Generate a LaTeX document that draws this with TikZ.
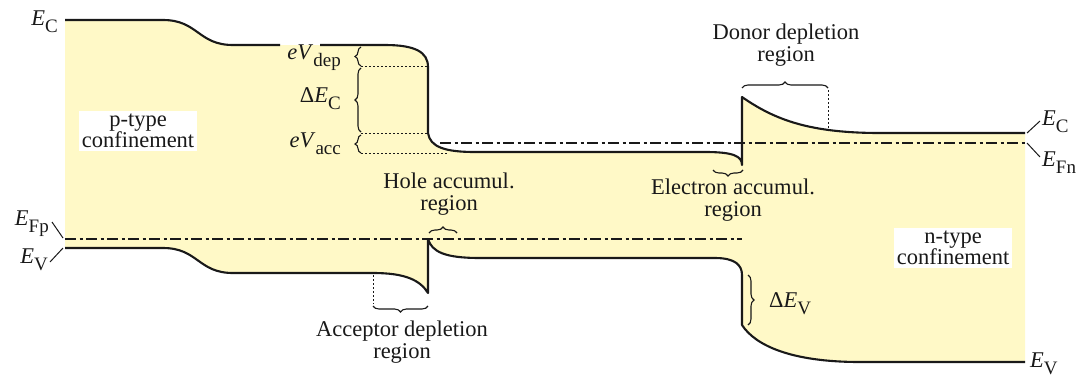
\documentclass[tikz,border=0pt]{standalone}
\usepackage{fontspec}
\setmainfont{Liberation Serif}
\usetikzlibrary{decorations.pathreplacing}
\definecolor{bandfill}{RGB}{255,249,199}
\definecolor{ink}{RGB}{25,25,25}
\newcommand\sbx[1]{\raisebox{-0.35em}{\fontsize{19}{19}\selectfont #1}}
\newcommand\En[1]{\textit{E}\sbx{#1}}
\begin{document}
\begin{tikzpicture}[x=1pt,y=-1pt,font=\fontsize{22.5}{21.5}\selectfont,
  band/.style={line width=2.1pt, draw=ink, line join=round},
  fermi/.style={line width=2pt, draw=ink, dash pattern=on 11pt off 3.5pt on 3pt off 3.5pt},
  dots/.style={line width=0.9pt, draw=ink, dash pattern=on 2pt off 2pt},
  brc/.style={decorate, decoration={brace, amplitude=6pt}, line width=1.1pt, draw=ink},
  lbl/.style={inner sep=0pt, text=ink},
  tick/.style={line width=1pt, draw=ink},
  boxlbl/.style={fill=white, align=center, inner sep=3pt, text=ink},
  txt/.style={align=center, inner sep=0pt, text=ink}]
\useasboundingbox (0,0) rectangle (1084,381);
% band fill
\fill[bandfill] (65,20) -- (163,20) .. controls (198,20) and (198,45) .. (233,45)
  -- (385,45) .. controls (415,45) and (428,52) .. (428,67) -- (428,133)
  .. controls (430,147) and (445,152) .. (475,152) -- (705,152)
  .. controls (733,152) and (742,156) .. (742,165) -- (742,97)
  .. controls (775,120) and (810,133) .. (880,133) -- (1025,133)
  -- (1025,362) -- (860,362) .. controls (790,362) and (755,345) .. (742,325)
  -- (742,275) .. controls (742,265) and (735,258) .. (715,258) -- (480,258)
  .. controls (445,258) and (432,252) .. (428,239) -- (428,293)
  .. controls (420,280) and (405,273) .. (373,273) -- (233,273)
  .. controls (198,273) and (198,248) .. (163,248) -- (65,248) -- cycle;
% conduction band
\draw[band] (65,20) -- (163,20) .. controls (198,20) and (198,45) .. (233,45) -- (280,45);
\draw[band] (320,45) -- (385,45) .. controls (415,45) and (428,52) .. (428,67) -- (428,133)
  .. controls (430,147) and (445,152) .. (475,152) -- (705,152)
  .. controls (733,152) and (742,156) .. (742,165) -- (742,97)
  .. controls (775,120) and (810,133) .. (880,133) -- (1025,133);
% valence band
\draw[band] (65,248) -- (163,248) .. controls (198,248) and (198,273) .. (233,273) -- (373,273)
  .. controls (405,273) and (420,280) .. (428,293) -- (428,239)
  .. controls (432,252) and (445,258) .. (480,258) -- (715,258)
  .. controls (735,258) and (742,265) .. (742,275) -- (742,325)
  .. controls (755,345) and (790,362) .. (860,362) -- (1025,362);
% Fermi levels
\draw[fermi] (65,239) -- (742,239);
\draw[fermi] (440,143) -- (1025,143);
% dotted guides
\draw[dots] (361,66) -- (428,66);
\draw[dots] (361,133) -- (428,133);
\draw[dots] (361,153) -- (448,153);
\draw[dots] (828,90) -- (828,128);
\draw[dots] (373,275) -- (373,304);
% braces
\draw[brc] (361,66) -- (361,47);
\draw[brc] (361,132) -- (361,68);
\draw[brc] (361,153) -- (361,135);
\draw[brc] (429,233) -- (457,233);
\draw[brc] (743,170) -- (713,170);
\draw[brc] (742,88) -- (828,88);
\draw[brc] (428,306) -- (373,306);
\draw[brc] (748,275) -- (748,325);
% labels
\node[lbl, anchor=base east] (ecl) at (58,25) {\En{C}};
\node[lbl, anchor=base east] (efpl) at (49,225) {\En{Fp}};
\node[lbl, anchor=base east] (evl) at (48,263) {\En{V}};
\node[lbl, anchor=base west] (ecr) at (1042,125) {\En{C}};
\node[lbl, anchor=base west] (efnr) at (1042,166) {\En{Fn}};
\node[lbl, anchor=base west] (evr) at (1030,367) {\En{V}};
\coordinate (a1) at (52,222); \coordinate (a2) at (63,238);
\coordinate (b1) at (50,262); \coordinate (b2) at (63,248);
\coordinate (c1) at (1027,133); \coordinate (c2) at (1040,121);
\coordinate (d1) at (1027,143); \coordinate (d2) at (1040,157);
\draw[tick] (a1) -- (a2);
\draw[tick] (b1) -- (b2);
\draw[tick] (c1) -- (c2);
\draw[tick] (d1) -- (d2);
\node[lbl, anchor=base east] (evdep) at (341,59) {\textit{eV}\sbx{dep}};
\node[lbl, anchor=base east] (dec) at (341,102) {Δ\En{C}};
\node[lbl, anchor=base east] (evacc) at (341,147) {\textit{eV}\sbx{acc}};
\node[lbl, anchor=base west] (dev) at (769,307) {Δ\En{V}};
\node[boxlbl] (ptype) at (138,131) {p-type\\confinement};
\node[boxlbl] (ntype) at (953,248) {n-type\\confinement};
\node[txt] (donor) at (786,45) {Donor depletion\\region};
\node[txt] (hole) at (449,194) {Hole accumul.\\region};
\node[txt] (elec) at (733,200) {Electron accumul.\\region};
\node[txt] (acc) at (402,342) {Acceptor depletion\\region};
\end{tikzpicture}
\end{document}
